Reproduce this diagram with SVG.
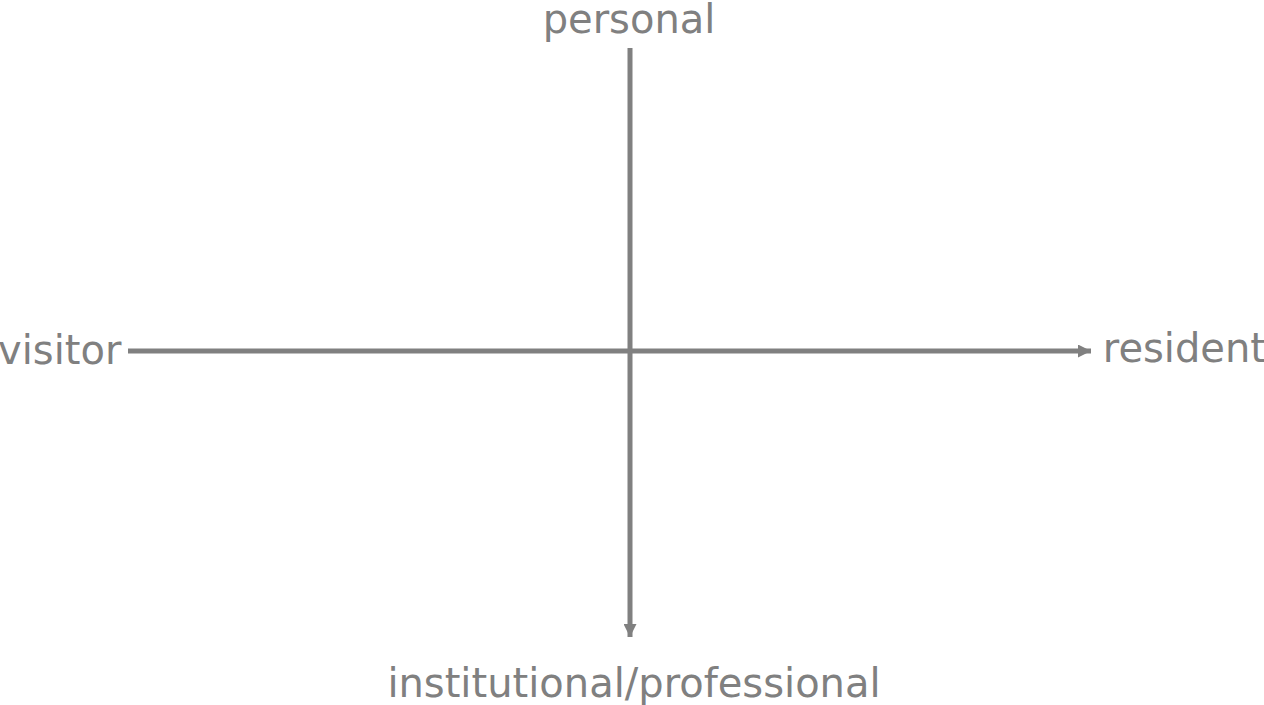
<svg xmlns="http://www.w3.org/2000/svg" width="1264" height="705" viewBox="0 0 1264 705">
<style>
.lbl{font-family:"DejaVu Sans",Verdana,sans-serif;font-size:40px;fill:#808080}
.ax{stroke:#808080;stroke-width:5;fill:none}
</style>
<defs>
<marker id="ah" viewBox="0 0 10 10" refX="10" refY="5" markerWidth="3.6" markerHeight="2.6" orient="auto" markerUnits="strokeWidth">
<path d="M0,0 L10,5 L0,10 Z" fill="#808080"/>
</marker>
</defs>
<rect width="1264" height="705" fill="#ffffff"/>
<g id="connectors">
<line class="ax" x1="630" y1="48" x2="630" y2="637" marker-end="url(#ah)"/>
<line class="ax" x1="128" y1="351" x2="1091" y2="351" marker-end="url(#ah)"/>
</g>
<g id="personal"><text class="lbl" x="629" y="33" text-anchor="middle">personal</text></g>
<g id="visitor"><text class="lbl" x="-2" y="364">visitor</text></g>
<g id="resident"><text class="lbl" x="1266" y="362" text-anchor="end">resident</text></g>
<g id="institutional"><text class="lbl" x="634" y="697" text-anchor="middle">institutional/professional</text></g>
</svg>
